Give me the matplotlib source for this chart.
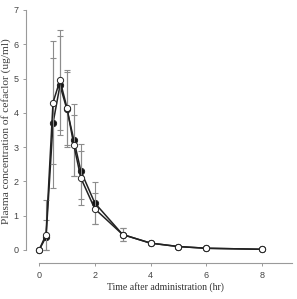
import numpy as np
import matplotlib
matplotlib.use("Agg")
import matplotlib.pyplot as plt

# sampling times (hr)
time_hr = [0, 0.25, 0.5, 0.75, 1.0, 1.25, 1.5, 2, 3, 4, 5, 6, 8]

# filled circles
conc_filled = [0.0, 0.38, 3.7, 4.8, 4.1, 3.2, 2.3, 1.37, 0.45, 0.2, 0.1, 0.05, 0.02]
sd_filled = [0.0, 0.5, 1.9, 1.44, 1.1, 1.05, 0.8, 0.6, 0.2, 0.06, 0.02, 0.01, 0.0]

# open circles
conc_open = [0.0, 0.45, 4.3, 4.95, 4.15, 3.05, 2.1, 1.2, 0.45, 0.2, 0.1, 0.05, 0.02]
sd_open = [0.0, 1.0, 1.8, 1.46, 1.1, 0.9, 0.8, 0.45, 0.2, 0.05, 0.02, 0.01, 0.0]

yticks = [0, 1, 2, 3, 4, 5, 6, 7]
xticks = [0, 2, 4, 6, 8]


def draw(ax, t, c, sd, face, z):
    c = np.array(c)
    sd = np.array(sd)
    lower = np.minimum(sd, c)
    ax.errorbar(t, c, yerr=[lower, sd], fmt='none', ecolor='#8c8c8c',
                elinewidth=0.8, capsize=2.2, capthick=0.8, zorder=z)
    ax.plot(t, c, '-o', color='#222222', lw=1.1, markersize=4.5,
            markerfacecolor=face, markeredgecolor='#222222', markeredgewidth=0.7, zorder=z + 1)


W, H = 297, 299
fig = plt.figure(figsize=(W / 100, H / 100), dpi=100)
ax = fig.add_axes([26 / W, 1 - 263 / H, 266 / W, 253 / H])

draw(ax, time_hr, conc_filled, sd_filled, '#111111', 2)
draw(ax, time_hr, conc_open, sd_open, 'white', 4)

ax.set_xlim(-0.47, 9.08)
ax.set_ylim(-0.38, 7)
ax.set_xticks(xticks)
ax.set_yticks(yticks)

for side in ['top', 'right']:
    ax.spines[side].set_visible(False)
ax.spines['left'].set_bounds(0, 7)
ax.spines['bottom'].set_bounds(0, 9.08)
for side in ['left', 'bottom']:
    ax.spines[side].set_color('#9a9a9a')
    ax.spines[side].set_linewidth(0.8)

ax.tick_params(axis='both', length=2.5, width=0.7, color='#9a9a9a',
               labelsize=6.5, labelcolor='#444444', pad=3)
for lab in ax.get_xticklabels() + ax.get_yticklabels():
    lab.set_family('Liberation Sans')

fig.text(6 / W, 1 - 131 / H, 'Plasma concentration of cefaclor (ug/ml)', family='Liberation Serif',
         fontsize=8.2, color='#3a3a3a', rotation=90, ha='center', va='center')
fig.text(165 / W, 1 - 287 / H, 'Time after administration (hr)', family='Liberation Serif',
         fontsize=7, color='#333333', ha='center', va='center')

plt.savefig('out.png', dpi=100)
